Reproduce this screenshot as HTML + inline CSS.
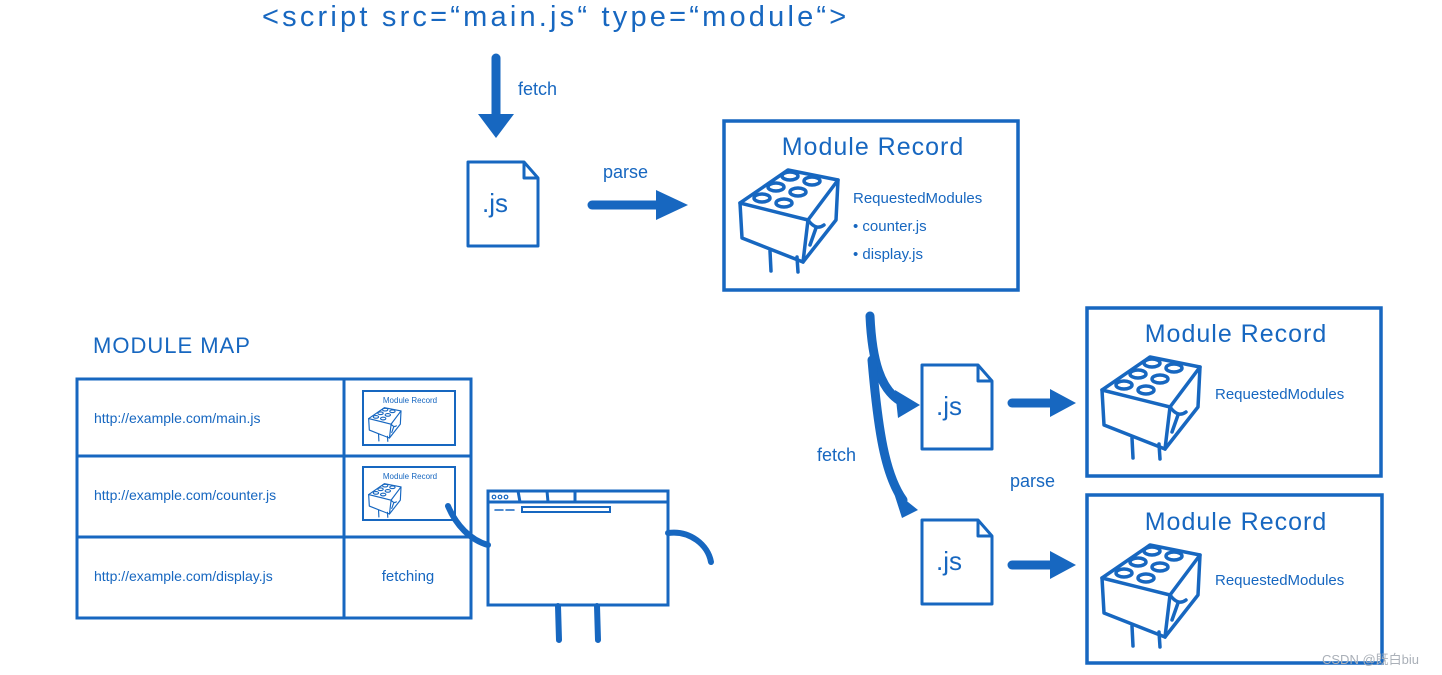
<!DOCTYPE html>
<html><head><meta charset="utf-8"><style>
html,body{margin:0;padding:0;background:#fff;}
svg{display:block}
text{font-family:"Liberation Sans","DejaVu Sans",sans-serif;fill:#1767c0}
</style></head><body>
<svg width="1442" height="675" viewBox="0 0 1442 675" xmlns="http://www.w3.org/2000/svg">
<defs>
<g id="brick" fill="none" stroke="#1767c0" stroke-width="3.5" stroke-linejoin="round" stroke-linecap="round">
<path d="M2 38 L70 55 L65 97 L4 73 Z"/>
<path d="M2 38 L50 5 L100 15 L70 55"/>
<path d="M100 15 L98 55 L65 97"/>
<ellipse cx="24" cy="33" rx="8" ry="4"/><ellipse cx="46" cy="38" rx="8" ry="4"/>
<ellipse cx="38" cy="22" rx="8" ry="4"/><ellipse cx="60" cy="27" rx="8" ry="4"/>
<ellipse cx="52" cy="11" rx="8" ry="4"/><ellipse cx="74" cy="16" rx="8" ry="4"/>
<path d="M32 86 L33 106 M59 92 L60 107 M70 55 Q78 66 86 60 M78 63 L72 80"/>
</g>
<g id="doc" fill="#fff" stroke="#1767c0" stroke-width="3" stroke-linejoin="round">
<path d="M0 0 L56 0 L70 16 L70 84 L0 84 Z"/><path d="M56 0 L56 16 L70 16" fill="none"/>
</g>
</defs>

<text x="262" y="26" font-size="29" style="letter-spacing:3.2px">&lt;script src=“main.js“ type=“module“&gt;</text>

<g stroke="#1767c0" stroke-width="9" fill="none" stroke-linecap="round">
<path d="M496 58 L496 118"/>
<path d="M592 205 L660 205"/>
<path d="M1012 403 L1052 403"/>
<path d="M1012 565 L1052 565"/>
<path d="M870 316 C872 360 880 390 902 402"/>
<path d="M872 360 C878 430 885 475 903 500"/>
</g>
<g fill="#1767c0">
<path d="M478 114 L514 114 L496 138 Z"/>
<path d="M656 190 L688 205 L656 220 Z"/>
<path d="M1050 389 L1076 403 L1050 417 Z"/>
<path d="M1050 551 L1076 565 L1050 579 Z"/>
<path d="M895 390 L920 405 L898 418 Z"/>
<path d="M893 490 L918 510 L902 518 Z"/>
</g>
<text x="518" y="95" font-size="18">fetch</text>
<text x="603" y="178" font-size="18">parse</text>
<text x="817" y="461" font-size="18">fetch</text>
<text x="1010" y="487" font-size="18">parse</text>

<use href="#doc" x="468" y="162"/><text x="482" y="212" font-size="26">.js</text>
<use href="#doc" x="922" y="365"/><text x="936" y="415" font-size="26">.js</text>
<use href="#doc" x="922" y="520"/><text x="936" y="570" font-size="26">.js</text>

<g fill="none" stroke="#1767c0" stroke-width="3.5">
<rect x="724" y="121" width="294" height="169"/>
<rect x="1087" y="308" width="294" height="168"/>
<rect x="1087" y="495" width="295" height="168"/>
</g>
<text x="873" y="155" font-size="25" text-anchor="middle" style="letter-spacing:1px">Module Record</text>
<use href="#brick" x="738" y="165"/>
<text x="853" y="203" font-size="15">RequestedModules</text>
<text x="853" y="231" font-size="15">•  counter.js</text>
<text x="853" y="259" font-size="15">•  display.js</text>

<text x="1236" y="342" font-size="25" text-anchor="middle" style="letter-spacing:1px">Module Record</text>
<use href="#brick" x="1100" y="352"/>
<text x="1215" y="399" font-size="15">RequestedModules</text>
<text x="1236" y="530" font-size="25" text-anchor="middle" style="letter-spacing:1px">Module Record</text>
<use href="#brick" x="1100" y="540"/>
<text x="1215" y="585" font-size="15">RequestedModules</text>

<text x="93" y="353" font-size="22" style="letter-spacing:1px">MODULE MAP</text>
<g fill="none" stroke="#1767c0" stroke-width="3">
<rect x="77" y="379" width="394" height="239"/>
<path d="M344 379 L344 618 M77 456 L471 456 M77 537 L471 537"/>
<rect x="363" y="391" width="92" height="54" stroke-width="2"/>
<rect x="363" y="467" width="92" height="53" stroke-width="2"/>
</g>
<text x="94" y="423" font-size="14">http://example.com/main.js</text>
<text x="94" y="500" font-size="14">http://example.com/counter.js</text>
<text x="94" y="581" font-size="14">http://example.com/display.js</text>
<text x="408" y="581" font-size="15" text-anchor="middle">fetching</text>
<text x="410" y="403" font-size="8" text-anchor="middle">Module Record</text>
<use href="#brick" transform="translate(368 406) scale(0.33)"/>
<text x="410" y="479" font-size="8" text-anchor="middle">Module Record</text>
<use href="#brick" transform="translate(368 482) scale(0.33)"/>

<g fill="none" stroke="#1767c0" stroke-width="3" stroke-linecap="round">
<rect x="488" y="491" width="180" height="114" fill="#fff"/>
<path d="M488 502 L668 502 M518 491 L520 502 M547 491 L548 502 M575 491 L575 502"/>
<rect x="522" y="507" width="88" height="5" stroke-width="2"/>
<path d="M495 510 L503 510 M506 510 L514 510" stroke-width="1.5"/>
</g>
<g fill="none" stroke="#1767c0" stroke-width="6" stroke-linecap="round">
<path d="M448 506 C456 525 470 540 488 545"/>
<path d="M668 533 C690 530 708 545 711 562"/>
<path d="M558 606 L559 640 M597 606 L598 640"/>
</g>
<g fill="none" stroke="#1767c0" stroke-width="1.2"><circle cx="494" cy="497" r="1.8"/><circle cx="500" cy="497" r="1.8"/><circle cx="506" cy="497" r="1.8"/></g>

<text x="1322" y="664" font-size="13" style="fill:#aab0b8" font-family="'Liberation Sans','Noto Sans CJK SC',sans-serif">CSDN @既白biu</text>
</svg>
</body></html>
